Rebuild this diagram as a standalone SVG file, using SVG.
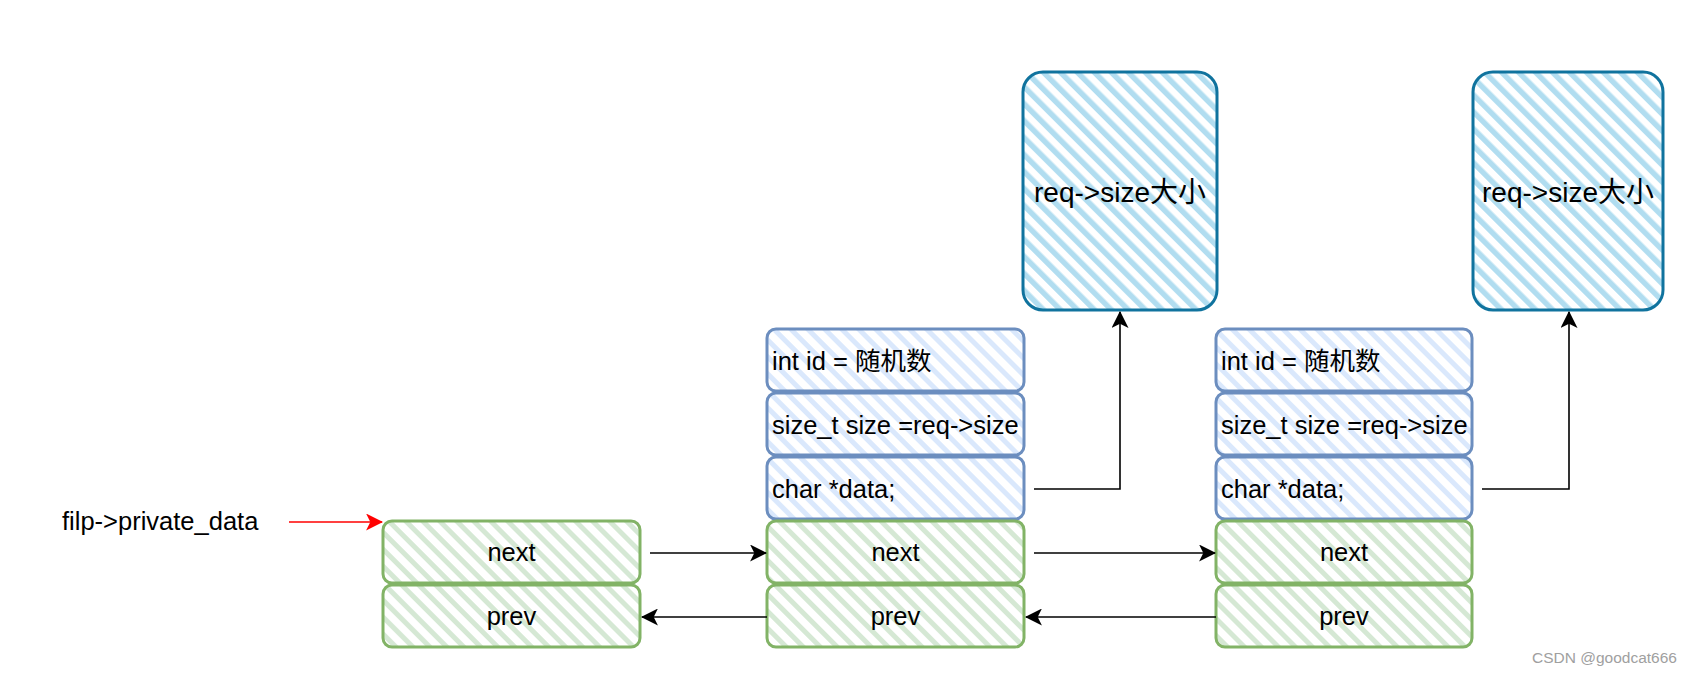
<svg xmlns="http://www.w3.org/2000/svg" width="1692" height="676" viewBox="0 0 1692 676">
<style>
.t{font-family:"Liberation Sans","Noto Sans CJK SC",Arial,sans-serif;font-size:25.5px;fill:#000}
.tb{font-family:"Liberation Sans","Noto Sans CJK SC",Arial,sans-serif;font-size:28px;fill:#000}
.g{stroke:#82b366;stroke-width:3;fill:url(#hg)}
.b{stroke:#6c8ebf;stroke-width:3;fill:url(#hb)}
.d{stroke:#10739e;stroke-width:3;fill:url(#hd)}
.c{fill:none;stroke:#000;stroke-width:1.6}
.r{fill:none;stroke:#ff0000;stroke-width:1.6}
</style>
<defs>
<pattern id="hg" patternUnits="userSpaceOnUse" width="12" height="12" patternTransform="rotate(-45)"><rect width="12" height="12" fill="#fff"/><rect x="0" y="0" width="5" height="12" fill="#d5e8d4"/></pattern>
<pattern id="hb" patternUnits="userSpaceOnUse" width="12" height="12" patternTransform="rotate(-45)"><rect width="12" height="12" fill="#fff"/><rect x="0" y="0" width="5" height="12" fill="#dae8fc"/></pattern>
<pattern id="hd" patternUnits="userSpaceOnUse" width="12" height="12" patternTransform="rotate(-45)"><rect width="12" height="12" fill="#fff"/><rect x="0" y="0" width="5.5" height="12" fill="#b1ddf0"/></pattern>
<marker id="ak" viewBox="0 0 16 16" refX="15" refY="8" markerWidth="17" markerHeight="17" markerUnits="userSpaceOnUse" orient="auto"><path d="M0,0 L16,8 L0,16 L4,8 Z" fill="#000"/></marker>
<marker id="ar" viewBox="0 0 16 16" refX="15" refY="8" markerWidth="17" markerHeight="17" markerUnits="userSpaceOnUse" orient="auto"><path d="M0,0 L16,8 L0,16 L4,8 Z" fill="#ff0000"/></marker>
</defs>
<rect width="1692" height="676" fill="#fff"/>

<g id="label-filp"><text class="t" x="62" y="530">filp-&gt;private_data</text></g>

<g id="n1-next"><rect class="g" x="383" y="521" width="257" height="62" rx="9"/><text class="t" x="511.5" y="561" text-anchor="middle">next</text></g>
<g id="n1-prev"><rect class="g" x="383" y="585" width="257" height="62" rx="9"/><text class="t" x="511.5" y="625" text-anchor="middle">prev</text></g>

<g id="n2-id"><rect class="b" x="767" y="329" width="257" height="62" rx="9"/><text class="t" x="772" y="370">int id = 随机数</text></g>
<g id="n2-size"><rect class="b" x="767" y="393" width="257" height="62" rx="9"/><text class="t" x="772" y="434">size_t size =req-&gt;size</text></g>
<g id="n2-data"><rect class="b" x="767" y="457" width="257" height="62" rx="9"/><text class="t" x="772" y="498">char *data;</text></g>
<g id="n2-next"><rect class="g" x="767" y="521" width="257" height="62" rx="9"/><text class="t" x="895.5" y="561" text-anchor="middle">next</text></g>
<g id="n2-prev"><rect class="g" x="767" y="585" width="257" height="62" rx="9"/><text class="t" x="895.5" y="625" text-anchor="middle">prev</text></g>
<g id="n2-buf"><rect class="d" x="1023" y="72" width="194" height="238" rx="20"/><text class="tb" x="1120" y="202" text-anchor="middle">req-&gt;size大小</text></g>

<g id="n3-id"><rect class="b" x="1216" y="329" width="256" height="62" rx="9"/><text class="t" x="1221" y="370">int id = 随机数</text></g>
<g id="n3-size"><rect class="b" x="1216" y="393" width="256" height="62" rx="9"/><text class="t" x="1221" y="434">size_t size =req-&gt;size</text></g>
<g id="n3-data"><rect class="b" x="1216" y="457" width="256" height="62" rx="9"/><text class="t" x="1221" y="498">char *data;</text></g>
<g id="n3-next"><rect class="g" x="1216" y="521" width="256" height="62" rx="9"/><text class="t" x="1344" y="561" text-anchor="middle">next</text></g>
<g id="n3-prev"><rect class="g" x="1216" y="585" width="256" height="62" rx="9"/><text class="t" x="1344" y="625" text-anchor="middle">prev</text></g>
<g id="n3-buf"><rect class="d" x="1473" y="72" width="190" height="238" rx="20"/><text class="tb" x="1568" y="202" text-anchor="middle">req-&gt;size大小</text></g>

<g id="connectors">
<path class="r" d="M289,522 L382,522" marker-end="url(#ar)"/>
<path class="c" d="M650,553 L766,553" marker-end="url(#ak)"/>
<path class="c" d="M767,617 L642,617" marker-end="url(#ak)"/>
<path class="c" d="M1034,553 L1215,553" marker-end="url(#ak)"/>
<path class="c" d="M1216,617 L1026,617" marker-end="url(#ak)"/>
<path class="c" d="M1034,489 L1120,489 L1120,312" marker-end="url(#ak)"/>
<path class="c" d="M1482,489 L1569,489 L1569,312" marker-end="url(#ak)"/>
</g>

<text x="1532" y="663" style="font-family:'Liberation Sans',Arial,sans-serif;font-size:15.5px;fill:#a0a0a0">CSDN @goodcat666</text>
</svg>
